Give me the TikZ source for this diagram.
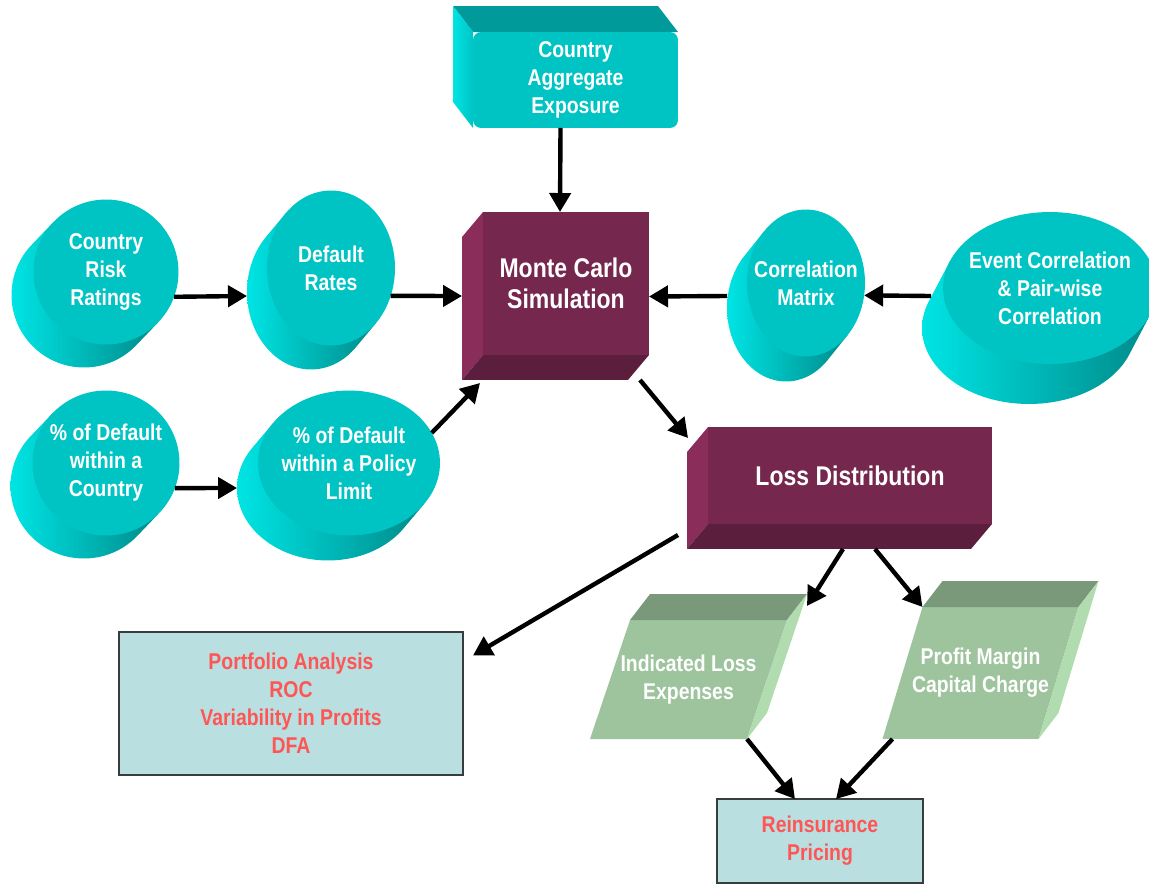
\documentclass[tikz,border=0pt]{standalone}
\usepackage{fontspec}
\setmainfont{Liberation Sans}[FakeStretch=0.85]
\usetikzlibrary{arrows.meta,calc,backgrounds,shapes.geometric}

\definecolor{drumface}{RGB}{0,196,196}
\definecolor{drumlight}{RGB}{0,228,228}
\definecolor{drumdark}{RGB}{0,138,138}
\definecolor{drumtop}{RGB}{0,154,154}
\definecolor{slabfront}{RGB}{118,39,78}
\definecolor{slabside}{RGB}{138,45,90}
\definecolor{slabbottom}{RGB}{91,30,60}
\definecolor{leaffront}{RGB}{157,196,157}
\definecolor{leaftop}{RGB}{122,152,122}
\definecolor{leafside}{RGB}{176,220,176}
\definecolor{notefill}{RGB}{185,223,225}
\definecolor{noteline}{RGB}{55,60,60}
\definecolor{notetext}{RGB}{255,85,85}

\tikzset{
  drum/.style={ellipse, fill=drumface, text=white, inner xsep=-8pt, inner ysep=0pt, outer sep=0pt,
    align=center, font=\fontsize{13}{15.9}\selectfont\bfseries},
  drum side/.style={left color=drumlight, right color=drumdark},
  crate/.style={rectangle, rounded corners=0.16cm, fill=drumface, text=white, inner sep=0pt, outer sep=0pt,
    align=center, font=\fontsize{13}{15.9}\selectfont\bfseries},
  slab/.style={rectangle, fill=slabfront, text=white, inner sep=0pt, outer sep=0pt,
    align=center, font=\fontsize{15.4}{17.6}\selectfont\bfseries},
  leaf/.style={rectangle, text=white, inner sep=0pt, outer sep=0pt,
    align=center, font=\fontsize{13}{15.9}\selectfont\bfseries},
  note/.style={rectangle, draw=noteline, line width=1.1pt, fill=notefill, text=notetext, inner sep=0pt,
    outer sep=0pt, align=center, font=\fontsize{13}{15.9}\selectfont\bfseries}
}

\begin{document}
\begin{tikzpicture}[x=0.02cm,y=-0.02cm,->,>={Triangle[length=0.38cm,width=0.42cm]},line width=2.5pt]
  \useasboundingbox (0,0) rectangle (1149,886);

  % inputs
  \node[drum, minimum width=2.9cm, minimum height=2.9cm] (crr) at (106,272) {Country\\Risk\\Ratings};
  \node[drum, minimum width=2.56cm, minimum height=3.1cm] (dr) at (331,268) {Default\\Rates};
  \node[drum, minimum width=2.94cm, minimum height=2.9cm] (pdc) at (106,463) {\% of Default\\within a\\Country};
  \node[drum, minimum width=3.64cm, minimum height=2.9cm] (pdp) at (349,463) {\% of Default\\within a Policy\\Limit};
  \node[drum, minimum width=2.36cm, minimum height=2.94cm] (cm) at (806,283) {Correlation\\Matrix};
  \node[drum, minimum width=4.28cm, minimum height=3.04cm] (ec) at (1050,288) {Event Correlation\\\& Pair-wise\\Correlation};
  \node[crate, minimum width=4.1cm, minimum height=1.92cm] (agg) at (575.5,80) {Country\\Aggregate\\Exposure};

  % engine
  \node[slab, minimum width=3.32cm, minimum height=2.86cm] (mc) at (566,283.5) {Monte Carlo\\Simulation};
  \node[slab, minimum width=5.68cm, minimum height=1.94cm] (ld) at (850,475.5) {Loss Distribution};

  % outputs
  \node[leaf, minimum width=3.14cm, minimum height=2.38cm] (il) at (688.5,679.5) {Indicated Loss\\Expenses};
  \node[leaf, minimum width=3.12cm, minimum height=2.64cm] (pm) at (980.5,673) {Profit Margin\\Capital Charge};
  \node[note, minimum width=6.88cm, minimum height=2.86cm] (port) at (291,703.5)
    {Portfolio Analysis\\ROC\\Variability in Profits\\DFA};
  \node[note, minimum width=4.12cm, minimum height=1.68cm] (rp) at (820,841) {Reinsurance\\Pricing};

  \begin{scope}[on background layer]
    \foreach \nd/\dx/\dy/\ta [evaluate=\ta as \tb using int(\ta+180)] in
      {crr/-22/23/-44, dr/-20/24/-51, pdc/-22/23/-44, pdp/-21/25/-28, cm/-20/25/-51, ec/-21/40/-15}
      \shade[drum side] let \p1=($(\nd.east)-(\nd.center)$), \p2=($(\nd.north)-(\nd.center)$) in
        ($(\nd)+(\dx,\dy)$) ellipse [x radius=\x1, y radius=\y2]
        (\nd.\ta) -- (\nd.\tb) -- ($(\nd.\tb)+(\dx,\dy)$) -- ($(\nd.\ta)+(\dx,\dy)$) -- cycle;
    \fill[drumtop] (agg.north west) -- ++(-20,-26) -- ($(agg.north east)+(-20,-26)$) -- (agg.north east) -- cycle;
    \shade[left color=drumlight, right color=drumface] (agg.north west) -- ++(-20,-26)
      -- ($(agg.south west)+(-20,-26)$) -- (agg.south west) -- cycle;
    \foreach \nd in {mc,ld} {
      \fill[slabside] (\nd.north west) -- ++(-21,25) -- ($(\nd.south west)+(-21,25)$) -- (\nd.south west) -- cycle;
      \fill[slabbottom] (\nd.south west) -- ++(-21,25) -- ($(\nd.south east)+(-21,25)$) -- (\nd.south east) -- cycle;
    }
    \foreach \nd in {il,pm} {
      \fill[leaffront] ($(\nd.south west)+(-20,0)$) -- ($(\nd.south east)+(-20,0)$)
        -- ($(\nd.north east)+(20,0)$) -- ($(\nd.north west)+(20,0)$) -- cycle;
      \fill[leaftop] ($(\nd.north west)+(20,0)$) -- ++(20,-26) -- ($(\nd.north east)+(40,-26)$)
        -- ($(\nd.north east)+(20,0)$) -- cycle;
      \fill[leafside] ($(\nd.north east)+(20,0)$) -- ++(20,-26) -- ($(\nd.south east)+(0,-26)$)
        -- ($(\nd.south east)+(-20,0)$) -- cycle;
    }
  \end{scope}

  \draw ($(agg.south)+(-15,0)$) -- ($(mc.north)+(-6,0)$);
  \draw (crr.-20) -- ($(dr.west)+(-20,28)$);
  \draw (dr.-25) -- ($(mc.west)+(-21,12.5)$);
  \draw (pdc.-20) -- ($(pdp.west)+(-21,25)$);
  \draw (pdp.20) -- ($(mc.south west)+(-3,28)$);
  \draw ($(cm.west)+(-20,13)$) -- ($(mc.east)+(0,13)$);
  \draw ($(ec.west)+(-12,8)$) -- (cm.-12);
  \draw ($(mc.south east)+(-9,25)$) -- ($(ld.north west)+(-20,11)$);
  \draw ($(ld.south west)+(-30,11)$) -- ($(port.east)+(10,-48)$);
  \draw ($(ld.south)+(-7,25)$) -- ($(il.north east)+(40,-14)$);
  \draw ($(ld.south)+(25,25)$) -- ($(pm.north west)+(20,0)$);
  \draw ($(il.south east)+(-20,0)$) -- ($(rp.north)+(-25,0)$);
  \draw ($(pm.south west)+(-10,0)$) -- ($(rp.north)+(16,0)$);
\end{tikzpicture}
\end{document}
